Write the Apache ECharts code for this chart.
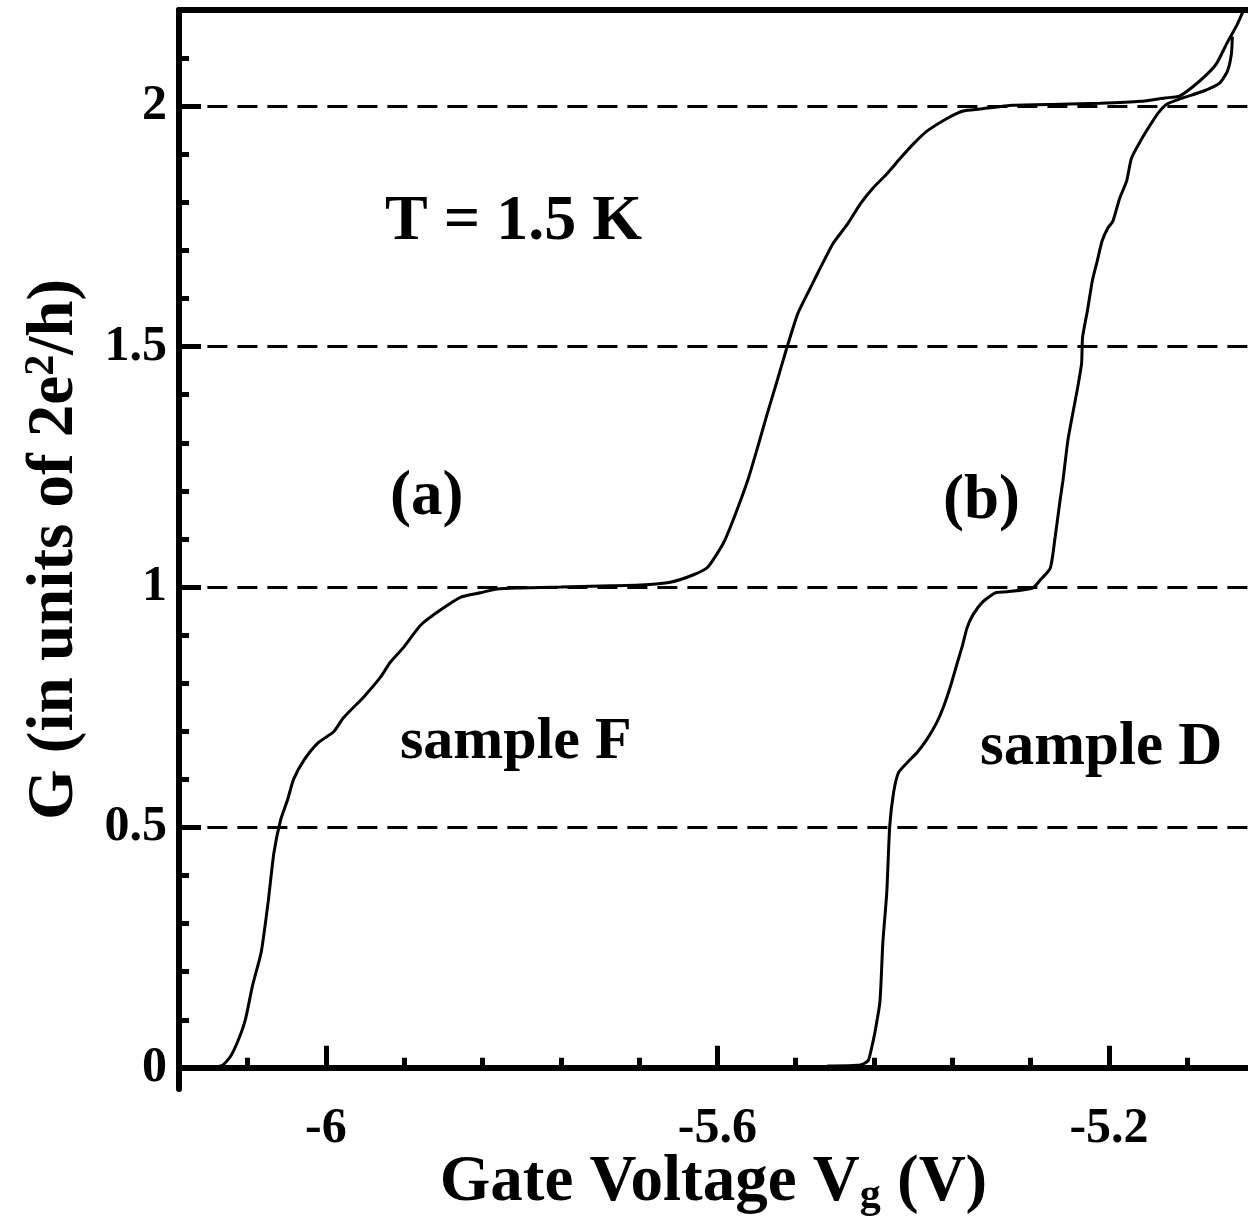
<!DOCTYPE html>
<html>
<head>
<meta charset="utf-8">
<title>Quantized conductance</title>
<script src="https://cdn.jsdelivr.net/npm/echarts@6/dist/echarts.min.js"></script>
<style>
  html, body { margin: 0; padding: 0; background: #fff; }
  #chart { width: 1248px; height: 1223px; }
</style>
</head>
<body>
<div id="chart"></div>
<script>
  // sample F, curve (a): gate voltage (V) and G (2e^2/h)
  const sampleFVg = [-6.128, -6.112, -6.105, -6.097, -6.089, -6.082, -6.075, -6.066, -6.059, -6.053,
    -6.046, -6.039, -6.033, -6.022, -6.008, -5.992, -5.982, -5.961, -5.944, -5.934,
    -5.920, -5.903, -5.883, -5.862, -5.842, -5.825, -5.801, -5.760, -5.719, -5.679,
    -5.648, -5.625, -5.610, -5.594, -5.584, -5.569, -5.559, -5.549, -5.539, -5.529,
    -5.518, -5.508, -5.498, -5.482, -5.467, -5.454, -5.441, -5.427, -5.413, -5.400,
    -5.386, -5.365, -5.349, -5.332, -5.298, -5.250, -5.209, -5.168, -5.143, -5.128,
    -5.114, -5.100, -5.090, -5.080, -5.069, -5.061]
  const sampleFG = [0.002, 0.002, 0.006, 0.025, 0.060, 0.102, 0.170, 0.241, 0.344, 0.448,
    0.517, 0.558, 0.600, 0.641, 0.676, 0.699, 0.728, 0.772, 0.813, 0.844,
    0.876, 0.921, 0.952, 0.979, 0.988, 0.996, 0.998, 1.000, 1.002, 1.004,
    1.010, 1.025, 1.041, 1.091, 1.139, 1.222, 1.290, 1.361, 1.429, 1.498,
    1.568, 1.610, 1.651, 1.714, 1.755, 1.797, 1.830, 1.859, 1.892, 1.921,
    1.948, 1.975, 1.990, 1.994, 2.002, 2.004, 2.006, 2.010, 2.017, 2.021,
    2.041, 2.066, 2.089, 2.129, 2.170, 2.207]

  // sample D, curve (b)
  const sampleDVg = [-5.488, -5.454, -5.446, -5.442, -5.439, -5.434, -5.431, -5.427, -5.424, -5.420,
    -5.415, -5.406, -5.396, -5.386, -5.376, -5.369, -5.362, -5.355, -5.350, -5.345,
    -5.339, -5.329, -5.316, -5.304, -5.278, -5.270, -5.260, -5.255, -5.250, -5.247,
    -5.242, -5.237, -5.232, -5.228, -5.227, -5.222, -5.217, -5.212, -5.207, -5.201,
    -5.196, -5.189, -5.182, -5.177, -5.168, -5.160, -5.150, -5.141, -5.125, -5.104,
    -5.087, -5.079, -5.075, -5.074]
  const sampleDG = [0.004, 0.006, 0.015, 0.046, 0.075, 0.137, 0.261, 0.365, 0.502, 0.573,
    0.614, 0.635, 0.656, 0.683, 0.718, 0.751, 0.793, 0.842, 0.876, 0.915,
    0.942, 0.969, 0.988, 0.990, 0.998, 1.015, 1.039, 1.104, 1.180, 1.222,
    1.305, 1.361, 1.415, 1.465, 1.519, 1.575, 1.637, 1.678, 1.720, 1.747,
    1.761, 1.809, 1.844, 1.892, 1.927, 1.954, 1.985, 2.004, 2.017, 2.031,
    2.048, 2.073, 2.108, 2.145]

  const xMajorTicks = [-6, -5.6, -5.2]
  const xMinorTicks = [-6.08, -5.92, -5.84, -5.76, -5.68, -5.52, -5.44, -5.36, -5.28, -5.12]
  const yMajorTicks = [0, 0.5, 1, 1.5, 2]
  const yMinorTicks = [0.1, 0.2, 0.3, 0.4, 0.6, 0.7, 0.8, 0.9, 1.1, 1.2, 1.3, 1.4, 1.6, 1.7, 1.8, 1.9, 2.1]
  const plateaus = [0.5, 1, 1.5, 2]

  const X_MIN = -6.15, X_MAX = -5.058
  const Y_MIN = -0.044, Y_MAX = 2.2
  const FONT = 'Liberation Serif'

  const pairs = (xs, ys) => xs.map((x, i) => [x, ys[i]])

  const chart = echarts.init(document.getElementById('chart'))

  const baseX = {
    type: 'value',
    min: X_MIN,
    max: X_MAX,
    splitLine: { show: false }
  }
  const baseY = {
    type: 'value',
    min: Y_MIN,
    max: Y_MAX,
    splitLine: { show: false }
  }

  chart.setOption({
    animation: false,
    backgroundColor: '#fff',
    grid: { left: 179, right: 0, top: 10, bottom: 134, outerBoundsMode: 'none', containLabel: false },
    xAxis: [
      Object.assign({}, baseX, {
        position: 'bottom',
        axisLine: { lineStyle: { color: '#000', width: 6 } },
        axisTick: { customValues: xMajorTicks, inside: true, length: 22, lineStyle: { color: '#000', width: 5 } },
        axisLabel: {
          customValues: xMajorTicks,
          color: '#000', fontFamily: FONT, fontWeight: 'bold', fontSize: 50, margin: 15
        },
        name: '{t|Gate Voltage V}{sub|g}{t| (V)}',
        nameLocation: 'middle',
        nameGap: 60,
        nameMoveOverlap: false,
        nameTextStyle: {
          rich: {
            t: { fontFamily: FONT, fontWeight: 'bold', fontSize: 65, color: '#000', lineHeight: 68 },
            sub: { fontFamily: FONT, fontWeight: 'bold', fontSize: 42, color: '#000', lineHeight: 34, verticalAlign: 'bottom' }
          }
        }
      }),
      Object.assign({}, baseX, {
        position: 'bottom',
        axisLine: { show: false },
        axisTick: { customValues: xMinorTicks, inside: true, length: 10, lineStyle: { color: '#000', width: 5 } },
        axisLabel: { show: false }
      }),
      Object.assign({}, baseX, {
        position: 'top',
        axisLine: { lineStyle: { color: '#000', width: 6 } },
        axisTick: { show: false },
        axisLabel: { show: false }
      })
    ],
    yAxis: [
      Object.assign({}, baseY, {
        position: 'left',
        axisLine: { lineStyle: { color: '#000', width: 6 } },
        axisTick: { customValues: yMajorTicks, inside: true, length: 22, lineStyle: { color: '#000', width: 5 } },
        axisLabel: {
          customValues: yMajorTicks,
          color: '#000', fontFamily: FONT, fontWeight: 'bold', fontSize: 50, margin: 12
        },
        name: '{t|G (in units of 2e}{sup|2}{t|/h)}',
        nameLocation: 'middle',
        nameGap: 90,
        nameTextStyle: {
          rich: {
            t: { fontFamily: FONT, fontWeight: 'bold', fontSize: 65, color: '#000', lineHeight: 68 },
            sup: { fontFamily: FONT, fontWeight: 'bold', fontSize: 42, color: '#000', lineHeight: 34, verticalAlign: 'top' }
          }
        }
      }),
      Object.assign({}, baseY, {
        position: 'left',
        axisLine: { show: false },
        axisTick: { customValues: yMinorTicks, inside: true, length: 10, lineStyle: { color: '#000', width: 5 } },
        axisLabel: { show: false }
      })
    ],
    graphic: [
      { type: 'text', left: 385, top: 190, style: { text: 'T = 1.5 K', font: 'bold 64px "Liberation Serif"', fill: '#000' } },
      { type: 'text', left: 390, top: 466, style: { text: '(a)', font: 'bold 63px "Liberation Serif"', fill: '#000' } },
      { type: 'text', left: 943, top: 470, style: { text: '(b)', font: 'bold 63px "Liberation Serif"', fill: '#000' } },
      { type: 'text', left: 400, top: 712, style: { text: 'sample F', font: 'bold 60px "Liberation Serif"', fill: '#000' } },
      { type: 'text', left: 980, top: 718, style: { text: 'sample D', font: 'bold 61px "Liberation Serif"', fill: '#000' } }
    ],
    series: [
      {
        name: 'sample F',
        type: 'line',
        data: pairs(sampleFVg, sampleFG),
        showSymbol: false,
        smooth: 0.2,
        lineStyle: { color: '#000', width: 3 },
        markLine: {
          silent: true,
          symbol: 'none',
          label: { show: false },
          lineStyle: { color: '#000', width: 3, type: [20, 10] },
          data: plateaus.map(g => [{ coord: [-6.121, g] }, { coord: [X_MAX, g] }])
        }
      },
      {
        name: 'sample D',
        type: 'line',
        data: pairs(sampleDVg, sampleDG),
        showSymbol: false,
        smooth: 0.2,
        lineStyle: { color: '#000', width: 3 }
      }
    ]
  })
</script>
</body>
</html>
